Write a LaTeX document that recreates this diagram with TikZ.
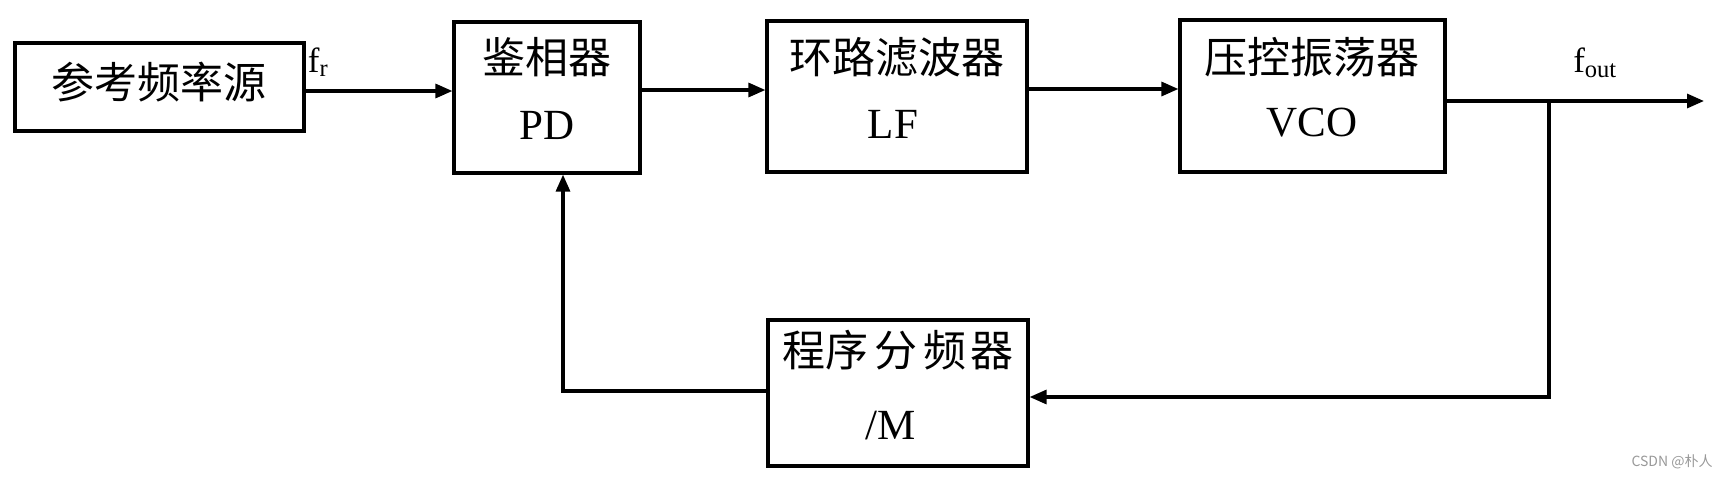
\documentclass[tikz,border=0pt]{standalone}
\usepackage{fontspec}
\setmainfont{Liberation Serif}
\newfontfamily\cjk{Noto Sans CJK SC}
\usetikzlibrary{arrows.meta}
\begin{document}
\begin{tikzpicture}[x=1pt,y=1pt,
  blk/.style={draw,line width=3.2pt,inner sep=0pt},
  cn/.style={inner sep=0pt,font=\cjk\fontsize{43}{50}\selectfont},
  lt/.style={inner sep=0pt,font=\fontsize{43}{50}\selectfont},
  sig/.style={inner sep=0pt,font=\fontsize{35}{40}\selectfont},
  arr/.style={line width=3.2pt,-{Triangle[length=17pt,width=14pt]}}]
\useasboundingbox[fill=white] (0,0) rectangle (1722,-477);
% blocks
\node[blk,minimum width=289pt,minimum height=88pt] (ref) at (159.5,-87) {};
\node[blk,minimum width=186pt,minimum height=151pt] (pd) at (547,-97.5) {};
\node[blk,minimum width=260pt,minimum height=151pt] (lf) at (897,-96.5) {};
\node[blk,minimum width=265pt,minimum height=152pt] (vco) at (1312.5,-96) {};
\node[blk,minimum width=260pt,minimum height=146pt] (div) at (898,-393) {};
% texts
\node[cn] (reft) at (159,-82) {参考频率源};
\node[cn] (pdt) at (547,-57) {鉴相器};
\node[lt] (pdl) at (547,-125) {PD};
\node[cn] (lft) at (897,-57) {环路滤波器};
\node[lt] (lfl) at (893,-124) {LF};
\node[cn] (vcot) at (1312,-57) {压控振荡器};
\node[lt] (vcol) at (1312,-123) {VCO};
\node[cn] (divt) at (898,-350) {程序\hspace{6pt}分\hspace{6pt}频\hspace{4pt}器};
\node[lt] (divl) at (891,-426) {/M};
\node[sig] (fr) at (318,-62) {f\textsubscript{r}};
\node[sig] (fout) at (1595,-63) {f\textsubscript{out}};
% connectors
\coordinate (J) at (1549,-101);
\coordinate (out) at (1704,-101);
\coordinate (fb) at (563,-391);
\draw[arr] (ref.east |- 0,-91) -- (pd.west |- 0,-91);
\draw[arr] (pd.east |- 0,-90) -- (lf.west |- 0,-90);
\draw[arr] (lf.east |- 0,-89) -- (vco.west |- 0,-89);
\draw[arr] (vco.east |- J) -- (out);
\draw[arr] (J) -- (J |- 0,-397) -- (div.east |- 0,-397);
\draw[arr] (div.west |- fb) -- (fb) -- (fb |- pd.south);
% watermark
\node[inner sep=0pt,text=black!40,font=\cjk\fontsize{14}{16}\selectfont] (wm) at (1672,-462) {CSDN @朴人};
\end{tikzpicture}
\end{document}
